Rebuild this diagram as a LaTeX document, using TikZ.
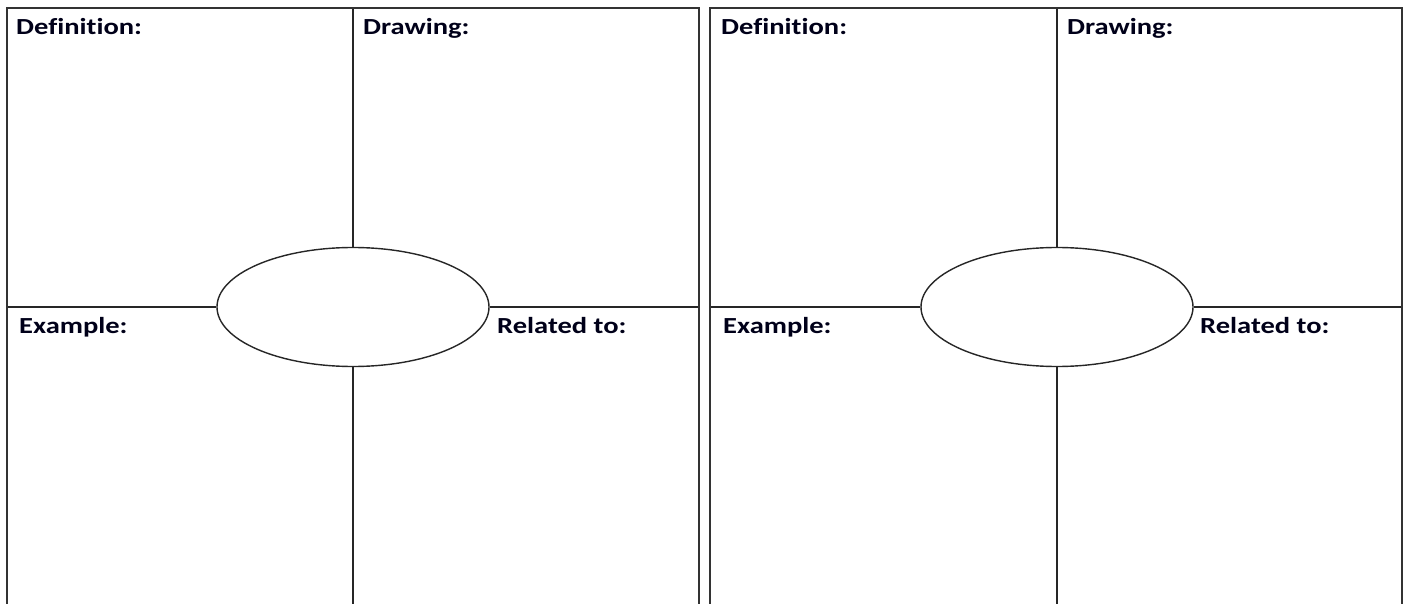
\documentclass[tikz,border=0pt]{standalone}
\usepackage{fontspec}
\setmainfont{Carlito}[FakeStretch=1.24,Ligatures=NoCommon]
\usetikzlibrary{shapes.geometric}
\begin{document}
\begin{tikzpicture}[x=1pt,y=-1pt,
  frame/.style={draw=black!80,line width=2pt},
  inner/.style={draw=black!85,line width=1.4pt},
  hub/.style={ellipse,draw=black!85,line width=1.4pt,minimum width=272pt,minimum height=119pt,inner sep=0pt},
  lbl/.style={anchor=base west,inner sep=0pt,font=\fontsize{23}{25}\selectfont\bfseries,text=black!90!blue}]
\useasboundingbox (0,0) rectangle (1409,604);
\fill[white] (0,0) rectangle (1409,604);
\foreach \ox/\cx/\rx/\nm in {7/353/699/L,710/1057/1402/R}{
  \coordinate (\nm bl) at (\ox,604);
  \coordinate (\nm tl) at (\ox,8);
  \coordinate (\nm tr) at (\rx,8);
  \coordinate (\nm br) at (\rx,604);
  \coordinate (\nm top) at (\cx,8);
  \coordinate (\nm bot) at (\cx,604);
  \coordinate (\nm ml) at (\ox,307);
  \coordinate (\nm mr) at (\rx,307);
  \node[hub] (\nm hub) at (\cx,307) {};
  \draw[inner] (\nm top) -- (\nm hub.north);
  \draw[inner] (\nm hub.south) -- (\nm bot);
  \draw[inner] (\nm ml) -- (\nm hub.west);
  \draw[inner] (\nm hub.east) -- (\nm mr);
  \draw[frame] (\nm bl) -- (\nm tl) -- (\nm tr) -- (\nm br);
}
\node[lbl] (Ldef) at (16,35) {Definition:};
\node[lbl] (Ldraw) at (363,35) {Drawing:};
\node[lbl] (Lex) at (19,333) {Example:};
\node[lbl] (Lrel) at (497,333) {Related to:};
\node[lbl] (Rdef) at (721,35) {Definition:};
\node[lbl] (Rdraw) at (1067,35) {Drawing:};
\node[lbl] (Rex) at (723,333) {Example:};
\node[lbl] (Rrel) at (1200,333) {Related to:};
\end{tikzpicture}
\end{document}
